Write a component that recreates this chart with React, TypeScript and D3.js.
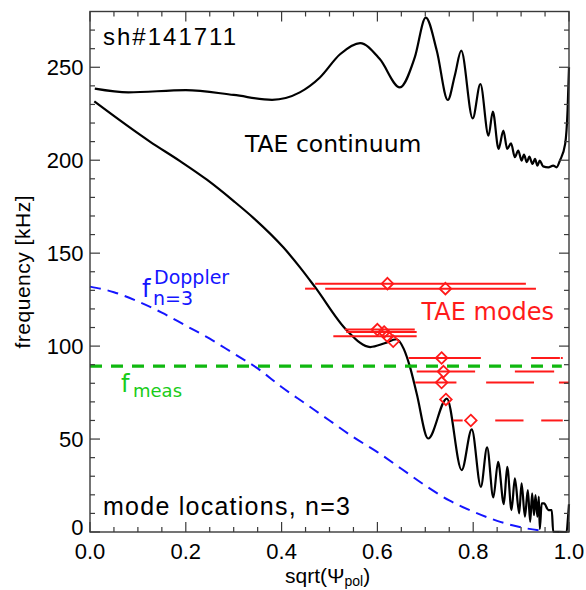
import React from 'react';
import * as d3 from 'd3';

// Upper TAE continuum boundary
const upperX = [0.01, 0.08, 0.2, 0.3, 0.38, 0.438, 0.48, 0.522, 0.564, 0.605, 0.647, 0.678, 0.701, 0.724, 0.747, 0.762, 0.775, 0.799, 0.815, 0.832, 0.841, 0.853, 0.863, 0.871, 0.879, 0.887, 0.894, 0.901, 0.906, 0.912, 0.917, 0.924, 0.929, 0.934, 0.939, 0.946, 0.957, 0.967, 0.974, 0.981, 0.992, 0.997, 1.0];
const upperF = [238.5, 236.5, 237.7, 235.1, 232.5, 236.5, 244.5, 257, 263, 254.4, 239.2, 255.3, 276.7, 258.9, 232.4, 246, 258.9, 222.5, 241.0, 213.2, 226.1, 206.1, 215.9, 206.1, 209.1, 201.6, 205.2, 199.8, 203, 198.9, 201.9, 198, 200.7, 197.1, 199.8, 196.7, 196.2, 197.1, 196.2, 199.8, 208.8, 226.6, 250];

// Lower TAE continuum boundary
const lowerX = [0.009, 0.125, 0.188, 0.244, 0.3, 0.341, 0.404, 0.438, 0.470, 0.536, 0.585, 0.615, 0.640, 0.655, 0.668, 0.682, 0.706, 0.745, 0.776, 0.797, 0.816, 0.829, 0.842, 0.852, 0.864, 0.871, 0.880, 0.887, 0.896, 0.901, 0.908, 0.914, 0.919, 0.923, 0.927, 0.930, 0.934, 0.937, 0.939, 0.943, 0.948, 0.957, 0.964, 0.967, 0.995, 0.998, 1.0];
const lowerF = [231.6, 210, 199.5, 189.5, 178, 169, 153, 142.5, 131.7, 108.5, 99.5, 101.5, 103.7, 98.5, 88.8, 74.5, 50.3, 71.8, 33.3, 55.2, 24.3, 45.5, 18.6, 37.8, 15, 35.1, 11.8, 28.8, 10, 26.2, 8.2, 22.6, 5.5, 20.8, 9.1, 19.9, 8.2, 19, 1.6, 15.4, 15.4, 11.8, 11.8, 0.2, 0, 8.2, 15];

// Doppler-shifted frequency, n=3
const dopplerX = [0, 0.05, 0.1, 0.15, 0.2, 0.25, 0.3, 0.35, 0.4, 0.45, 0.5, 0.55, 0.6, 0.65, 0.7, 0.75, 0.8, 0.85, 0.9, 0.95];
const dopplerF = [132, 129, 124, 118, 111, 104, 96, 88, 78, 69, 60, 51, 43, 34, 25, 17, 11, 6, 2.5, 0.5];

// measured frequency
const fMeas = 89.2;

// TAE mode locations (diamonds) and radial extent segments
const modeX = [0.621, 0.742, 0.600, 0.614, 0.621, 0.633, 0.734, 0.738, 0.734, 0.743, 0.795];
const modeF = [133.6, 130.9, 108.9, 107.6, 105.3, 102.6, 93.6, 86.3, 80.4, 71.3, 60.0];
const modeSegs: number[][][] = [
  [[0.470, 0.910]],
  [[0.449, 0.470], [0.491, 0.931]],
  [[0.532, 0.678]],
  [[0.535, 0.682]],
  [[0.508, 0.682]],
  [],
  [[0.665, 0.816], [0.921, 0.981], [0.983, 0.987]],
  [[0.682, 0.804], [0.887, 0.969]],
  [[0.679, 0.765], [0.827, 0.927], [0.979, 1.0]],
  [],
  [[0.758, 0.778], [0.846, 0.905], [0.942, 0.987]],
];

const xMajor = [0, 0.2, 0.4, 0.6, 0.8, 1.0];
const xTickLabels = ['0.0', '0.2', '0.4', '0.6', '0.8', '1.0'];
const yMajor = [0, 50, 100, 150, 200, 250];
const yTickLabels = ['0', '50', '100', '150', '200', '250'];

export default function App() {
  const x = d3.scaleLinear().domain([0, 1]).range([90, 569]);
  const y = d3.scaleLinear().domain([0, 280]).range([532, 11.5]);

  const line = (xs: number[], fs: number[]) =>
    d3.line<number>().x((_, i) => x(xs[i])).y((d) => y(d)).curve(d3.curveMonotoneX)(fs) || '';

  const xMinor = d3.range(0, 1.0001, 0.05).filter((v) => !xMajor.some((m) => Math.abs(m - v) < 1e-6));
  const yMinor = d3.range(0, 280, 10).filter((v) => v % 50 !== 0);

  const [x0, x1] = x.range();
  const [y0, y1] = y.range();
  const axisColor = '#3a3a3a';
  const helv = 'Liberation Sans, Arial, sans-serif';
  const dv = 'DejaVu Sans, sans-serif';
  const red = '#ff1a1a';

  return (
    <svg width={586} height={590} style={{ position: 'absolute', left: 0, top: 0, background: '#fff' }}>
      <rect x={0} y={0} width={586} height={590} fill="#fff" />
      {/* curves */}
      <path d={line(upperX, upperF)} fill="none" stroke="#000" strokeWidth={2.2} />
      <path d={line(lowerX, lowerF)} fill="none" stroke="#000" strokeWidth={2.2} />
      <path d={line(dopplerX, dopplerF)} fill="none" stroke="#1515ff" strokeWidth={2} strokeDasharray="11 7" />
      <line x1={x(0)} x2={x(0.985)} y1={y(fMeas)} y2={y(fMeas)} stroke="#10b810" strokeWidth={3.3} strokeDasharray="12 9" />

      {/* TAE modes */}
      {modeSegs.map((segs, i) =>
        segs.map((s, j) => (
          <line key={`s${i}-${j}`} x1={x(s[0])} x2={x(s[1])} y1={y(modeF[i])} y2={y(modeF[i])} stroke={red} strokeWidth={2} />
        ))
      )}
      {modeX.map((mx, i) => {
        const cx = x(mx), cy = y(modeF[i]), r = 5.8;
        return (
          <path key={`d${i}`} d={`M${cx},${cy - r}L${cx + r},${cy}L${cx},${cy + r}L${cx - r},${cy}Z`} fill="none" stroke={red} strokeWidth={1.8} />
        );
      })}

      {/* frame */}
      <rect x={x0} y={y1} width={x1 - x0} height={y0 - y1} fill="none" stroke={axisColor} strokeWidth={1.4} />
      {xMajor.map((v) => (
        <g key={`xm${v}`}>
          <line x1={x(v)} x2={x(v)} y1={y0} y2={y0 - 10} stroke={axisColor} strokeWidth={1.2} />
          <line x1={x(v)} x2={x(v)} y1={y1} y2={y1 + 10} stroke={axisColor} strokeWidth={1.2} />
        </g>
      ))}
      {xMinor.map((v) => (
        <g key={`xn${v}`}>
          <line x1={x(v)} x2={x(v)} y1={y0} y2={y0 - 5} stroke={axisColor} strokeWidth={1.2} />
          <line x1={x(v)} x2={x(v)} y1={y1} y2={y1 + 5} stroke={axisColor} strokeWidth={1.2} />
        </g>
      ))}
      {yMajor.map((v) => (
        <g key={`ym${v}`}>
          <line x1={x0} x2={x0 + 10} y1={y(v)} y2={y(v)} stroke={axisColor} strokeWidth={1.2} />
          <line x1={x1} x2={x1 - 10} y1={y(v)} y2={y(v)} stroke={axisColor} strokeWidth={1.2} />
        </g>
      ))}
      {yMinor.map((v) => (
        <g key={`yn${v}`}>
          <line x1={x0} x2={x0 + 5} y1={y(v)} y2={y(v)} stroke={axisColor} strokeWidth={1.2} />
          <line x1={x1} x2={x1 - 5} y1={y(v)} y2={y(v)} stroke={axisColor} strokeWidth={1.2} />
        </g>
      ))}

      {/* tick labels */}
      {xMajor.map((v, i) => (
        <text key={`xl${v}`} x={x(v)} y={y0 + 27} textAnchor="middle" fontFamily={helv} fontSize={22} fill="#000">
          {xTickLabels[i]}
        </text>
      ))}
      {yMajor.map((v, i) => (
        <text key={`yl${v}`} x={83.5} y={y(v) + (v === 0 ? 3 : 8)} textAnchor="end" fontFamily={helv} fontSize={22} fill="#000">
          {yTickLabels[i]}
        </text>
      ))}

      {/* axis titles */}
      <text x={285} y={583} fontFamily={helv} fontSize={21} fill="#000">
        sqrt(Ψ<tspan fontSize={14} dy={3}>pol</tspan><tspan dy={-3}>)</tspan>
      </text>
      <text transform="translate(30,272) rotate(-90)" textAnchor="middle" fontFamily={helv} fontSize={21} fill="#000" textLength={153} lengthAdjust="spacing">
        frequency [kHz]
      </text>

      {/* annotations */}
      <text x={103} y={44.5} fontFamily={helv} fontSize={24} fill="#000" textLength={133} lengthAdjust="spacing">sh#141711</text>
      <text x={103} y={515} fontFamily={helv} fontSize={25} fill="#000" textLength={247} lengthAdjust="spacing">mode locations, n=3</text>
      <text x={245} y={152} fontFamily={dv} fontSize={23.5} fill="#000">TAE continuum</text>
      <text x={421.5} y={320} fontFamily={dv} fontSize={24} fill={red}>TAE modes</text>

      <text x={142} y={296.5} fontFamily={dv} fontSize={24} fill="#1515ff">f</text>
      <text x={154} y={283.5} fontFamily={dv} fontSize={19} fill="#1515ff">Doppler</text>
      <text x={153} y={305} fontFamily={dv} fontSize={19} fill="#1515ff">n=3</text>

      <text x={121} y={391.5} fontFamily={dv} fontSize={24} fill="#19cc19">f</text>
      <text x={133} y={396.5} fontFamily={dv} fontSize={18} fill="#19cc19">meas</text>
    </svg>
  );
}
